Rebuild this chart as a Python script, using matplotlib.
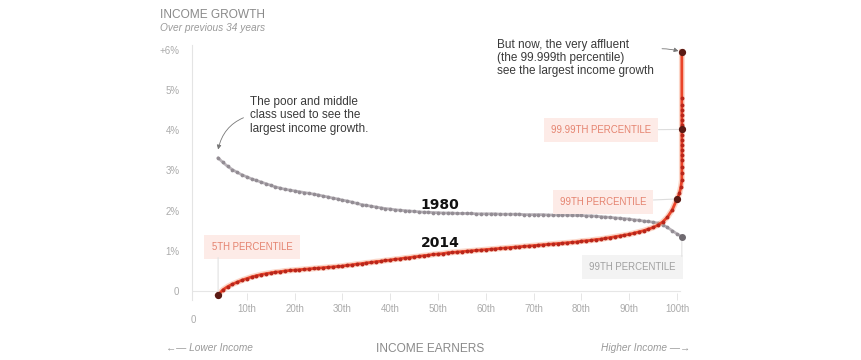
import numpy as np
import matplotlib
matplotlib.use("Agg")
import matplotlib.pyplot as plt

plt.rcParams["font.family"] = ["Liberation Sans", "DejaVu Sans"]

# percentile positions along the x axis (one dot per percentile)
pct = np.arange(4, 101)

growth_1980 = [
    3.31, 3.20, 3.10, 3.02, 2.95, 2.89, 2.84, 2.79, 2.75, 2.71,
    2.67, 2.63, 2.59, 2.56, 2.53, 2.51, 2.49, 2.47, 2.45, 2.43,
    2.41, 2.39, 2.36, 2.34, 2.31, 2.29, 2.26, 2.24, 2.21, 2.18,
    2.15, 2.13, 2.11, 2.09, 2.07, 2.05, 2.04, 2.02, 2.01, 2.00,
    1.99, 1.98, 1.97, 1.96, 1.96, 1.95, 1.95, 1.94, 1.94, 1.94,
    1.93, 1.93, 1.93, 1.93, 1.92, 1.92, 1.92, 1.92, 1.92, 1.91,
    1.91, 1.91, 1.91, 1.91, 1.90, 1.90, 1.90, 1.90, 1.90, 1.89,
    1.89, 1.89, 1.89, 1.89, 1.88, 1.88, 1.88, 1.87, 1.87, 1.86,
    1.85, 1.84, 1.83, 1.82, 1.81, 1.80, 1.79, 1.77, 1.76, 1.74,
    1.73, 1.71, 1.69, 1.65, 1.58, 1.50, 1.42,
]
growth_2014 = [
    -0.10, 0.03, 0.11, 0.17, 0.22, 0.27, 0.31, 0.35, 0.38, 0.41,
    0.43, 0.45, 0.47, 0.48, 0.50, 0.51, 0.52, 0.53, 0.54, 0.55,
    0.56, 0.57, 0.58, 0.59, 0.60, 0.61, 0.62, 0.64, 0.65, 0.67,
    0.68, 0.70, 0.71, 0.73, 0.74, 0.76, 0.77, 0.79, 0.80, 0.82,
    0.83, 0.85, 0.86, 0.88, 0.89, 0.91, 0.92, 0.93, 0.95, 0.96,
    0.97, 0.98, 0.99, 1.00, 1.01, 1.02, 1.03, 1.04, 1.05, 1.06,
    1.07, 1.08, 1.09, 1.10, 1.11, 1.12, 1.13, 1.14, 1.15, 1.16,
    1.17, 1.18, 1.19, 1.20, 1.21, 1.22, 1.24, 1.25, 1.26, 1.28,
    1.29, 1.31, 1.33, 1.35, 1.37, 1.39, 1.41, 1.44, 1.47, 1.50,
    1.54, 1.58, 1.64, 1.72, 1.84, 2.02, 2.29,
]
# top 1 percent, squeezed into the right edge (99.1th ... 99.999th)
top_x_2014 = [100.5, 100.8, 101, 101, 101, 101, 101, 101, 101, 101,
              101, 101, 101, 101, 101, 101, 101, 101, 101]
top_y_2014 = [2.43, 2.59, 2.76, 2.93, 3.09, 3.26, 3.38, 3.51, 3.63, 3.76,
              3.88, 4.02, 4.13, 4.25, 4.38, 4.50, 4.63, 4.79, 5.95]
top_x_1980 = [101]
top_y_1980 = [1.35]

y_ticks = [0, 1, 2, 3, 4, 5, 6]
y_labels = ["0", "1%", "2%", "3%", "4%", "5%", "+6%"]
x_ticks = [10, 20, 30, 40, 50, 60, 70, 80, 90, 100]
x_labels = ["10th", "20th", "30th", "40th", "50th",
            "60th", "70th", "80th", "90th", "100th"]

RED_LINE = "#ea4429"
RED_DOT = "#b8261b"
GRAY_LINE = "#b8b2b8"
GRAY_DOT = "#938d94"
TICK_C = "#ababab"

x80 = np.r_[pct, top_x_1980]
y80 = np.r_[growth_1980, top_y_1980]
x14 = np.r_[pct, top_x_2014]
y14 = np.r_[growth_2014, top_y_2014]
i_99 = len(growth_2014) - 1
i_9999 = len(pct) + 11

fig = plt.figure(figsize=(8.62, 3.6), dpi=100)
ax = fig.add_axes([192 / 862, 60 / 360, 508 / 862, 255 / 360])
ax.set_xlim(-1.46, 104.8)
ax.set_ylim(-0.224, 6.12)

for s in ["top", "right", "bottom"]:
    ax.spines[s].set_visible(False)
ax.spines["left"].set_color("#e4e4e4")
ax.spines["left"].set_linewidth(0.8)
ax.axhline(0, xmax=0.96, color="#e6e6e6", lw=0.8, zorder=0)

ax.set_yticks(y_ticks)
ax.set_yticklabels(y_labels)
ax.set_xticks(x_ticks)
ax.set_xticklabels(x_labels)
ax.tick_params(axis="y", length=0, pad=9, labelsize=7, labelcolor=TICK_C)
ax.tick_params(axis="x", direction="in", length=5, width=0.6, color="#e0e0e0",
               pad=3, labelsize=7, labelcolor=TICK_C)

# 1980 series
ax.plot(x80, y80, color=GRAY_LINE, lw=2.0, zorder=2)
ax.plot(x80, y80, "o", color=GRAY_DOT, ms=2.7, mew=0, zorder=3)
ax.plot(x80[-1], y80[-1], "o", color="#6f6a70", ms=4, zorder=4)

# 2014 series
ax.plot(x14, y14, color="#f7a585", lw=4.2, alpha=0.45, zorder=3)
ax.plot(x14, y14, color=RED_LINE, lw=2.0, zorder=4)
ax.plot(x14, y14, "o", color=RED_DOT, ms=2.8, mew=0, zorder=5)
for i in [0, i_99, i_9999, len(x14) - 1]:
    ax.plot(x14[i], y14[i], "o", color="#5a1a14", ms=4.2, zorder=6)

ax.text(50.4, 2.14, "1980", ha="center", va="center", fontsize=10,
        fontweight="bold", family="DejaVu Sans", color="#111111")
ax.text(50.4, 1.19, "2014", ha="center", va="center", fontsize=10,
        fontweight="bold", family="DejaVu Sans", color="#111111")

# callout boxes
pink_box = dict(boxstyle="square,pad=0.75", fc="#fdebe7", ec="none")
gray_box = dict(boxstyle="square,pad=0.75", fc="#f3f3f3", ec="none")
lbl = dict(fontsize=6.9, ha="center", va="center")
leader = dict(arrowstyle="-", color="#dddddd", lw=0.8, shrinkA=0, shrinkB=2)

ax.annotate("99.99TH PERCENTILE", xy=(x14[i_9999], y14[i_9999]),
            xytext=(84.1, 4.0), color="#e5836f", bbox=pink_box,
            arrowprops=leader, **lbl)
ax.annotate("99TH PERCENTILE", xy=(x14[i_99], y14[i_99]),
            xytext=(84.5, 2.21), color="#e5836f", bbox=pink_box,
            arrowprops=leader, **lbl)
ax.text(11.1, 1.09, "5TH PERCENTILE", color="#e5836f", bbox=pink_box, **lbl)
ax.annotate("", xy=(x14[0], y14[0]), xytext=(x14[0], 0.83),
            arrowprops=dict(leader, color="#e2e2e2"))
ax.text(90.6, 0.6, "99TH PERCENTILE", color="#a0a0a0", bbox=gray_box, **lbl)
ax.annotate("", xy=(x80[-1], y80[-1]), xytext=(x80[-1], 0.86),
            arrowprops=dict(leader, color="#e2e2e2"))

# narrative notes
ax.annotate("The poor and middle\nclass used to see the\nlargest income growth.",
            xy=(x80[0], 3.52), xytext=(10.7, 4.85), ha="left", va="top",
            fontsize=8.5, color="#3a3a3a", linespacing=1.15,
            arrowprops=dict(arrowstyle="-|>,head_length=0.3,head_width=0.15",
                            color="#777777", lw=0.6,
                            connectionstyle="arc3,rad=0.3",
                            relpos=(0, 0.5), shrinkA=3, shrinkB=0))
ax.annotate("But now, the very affluent\n(the 99.999th percentile)\n"
            "see the largest income growth",
            xy=(100.3, 5.97), xytext=(62.3, 6.28), ha="left", va="top",
            fontsize=8.5, color="#3a3a3a", linespacing=1.12,
            arrowprops=dict(arrowstyle="-|>,head_length=0.3,head_width=0.15",
                            color="#777777", lw=0.6,
                            connectionstyle="arc3,rad=-0.1",
                            relpos=(1, 0.72), shrinkA=4, shrinkB=0))

# header and footer text
fig.text(160 / 862, 1 - 15 / 360, "INCOME GROWTH", fontsize=8.6,
         color="#8a8a8a", va="center", ha="left")
fig.text(160 / 862, 1 - 28 / 360, "Over previous 34 years", fontsize=7.3,
         color="#9a9a9a", style="italic", va="center", ha="left")
fig.text(193 / 862, 1 - 320 / 360, "0", fontsize=7, color=TICK_C,
         va="center", ha="center")
fig.text(166 / 862, 1 - 348 / 360, "\u2190\u2014 Lower Income", fontsize=7.3,
         color="#9a9a9a", style="italic", va="center", ha="left")
fig.text(430 / 862, 1 - 349 / 360, "INCOME EARNERS", fontsize=8.6,
         color="#8a8a8a", va="center", ha="center")
fig.text(690 / 862, 1 - 348 / 360, "Higher Income \u2014\u2192", fontsize=7.3,
         color="#9a9a9a", style="italic", va="center", ha="right")

fig.savefig("out.png", dpi=100)
